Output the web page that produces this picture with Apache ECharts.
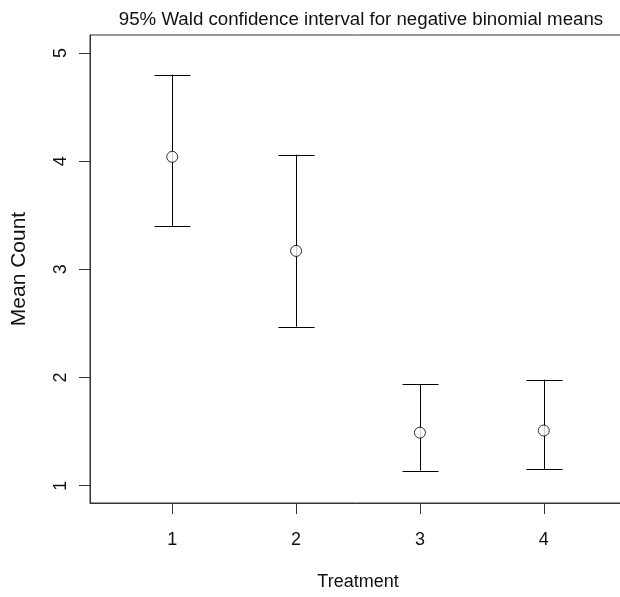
<!DOCTYPE html>
<html>
<head>
<meta charset="utf-8">
<script src="https://cdn.jsdelivr.net/npm/echarts@6/dist/echarts.min.js"></script>
<style>
html,body{margin:0;padding:0;background:#fff;}
#chart{width:620px;height:597px;}
</style>
</head>
<body>
<div id="chart"></div>
<script>
var treatments = [1, 2, 3, 4];
var means = [4.04, 3.17, 1.49, 1.51];
var upper = [4.80, 4.06, 1.94, 1.98];
var lower = [3.40, 2.47, 1.14, 1.15];
var xTicks = [1, 2, 3, 4];
var yTicks = [1, 2, 3, 4, 5];

var FONT = "'Liberation Sans', Arial, sans-serif";
var chart = echarts.init(document.getElementById('chart'), null, {renderer: 'canvas'});

var barData = treatments.map(function (t, i) { return [t, lower[i], upper[i]]; });
var meanData = treatments.map(function (t, i) { return [t, means[i]]; });

chart.setOption({
  animation: false,
  backgroundColor: '#fff',
  title: {
    text: '95% Wald confidence interval for negative binomial means',
    left: 356, top: 5, textAlign: 'center',
    textStyle: {fontFamily: FONT, fontSize: 18.7, fontWeight: 'normal', color: '#111'}
  },
  grid: {left: 90, top: 35, width: 536, height: 468, outerBoundsMode: 'none', containLabel: false,
         show: true, borderColor: '#333', borderWidth: 1, backgroundColor: 'transparent'},
  xAxis: {
    type: 'value', min: 0.336, max: 4.664,
    name: 'Treatment', nameLocation: 'middle', nameGap: 70,
    nameTextStyle: {fontFamily: FONT, fontSize: 18, color: '#111'},
    axisLine: {show: true, lineStyle: {color: '#333', width: 1}},
    axisTick: {show: true, inside: false, length: 11, customValues: xTicks, lineStyle: {color: '#333'}},
    axisLabel: {customValues: xTicks, margin: 28, fontFamily: FONT, fontSize: 18, color: '#111'},
    splitLine: {show: false}
  },
  yAxis: {
    type: 'value', min: 0.84, max: 5.166,
    name: 'Mean Count', nameLocation: 'middle', nameGap: 60, nameRotate: 90,
    nameTextStyle: {fontFamily: FONT, fontSize: 21, color: '#111'},
    axisLine: {show: true, lineStyle: {color: '#333', width: 1}},
    axisTick: {show: true, inside: false, length: 11, customValues: yTicks, lineStyle: {color: '#333'}},
    axisLabel: {customValues: yTicks, rotate: 90, margin: 20, fontFamily: FONT, fontSize: 18, color: '#111'},
    splitLine: {show: false}
  },
  series: [
    {
      type: 'custom',
      data: barData,
      renderItem: function (params, api) {
        var x = api.value(0);
        var lo = api.coord([x, api.value(1)]);
        var hi = api.coord([x, api.value(2)]);
        var cx = Math.round(lo[0]) + 0.5;
        var half = 18;
        var style = {stroke: '#000', lineWidth: 1, fill: null};
        return {
          type: 'group',
          children: [
            {type: 'line', shape: {x1: cx, y1: hi[1], x2: cx, y2: lo[1]}, style: style},
            {type: 'line', shape: {x1: cx - half, y1: Math.round(hi[1]) + 0.5, x2: cx + half, y2: Math.round(hi[1]) + 0.5}, style: style},
            {type: 'line', shape: {x1: cx - half, y1: Math.round(lo[1]) + 0.5, x2: cx + half, y2: Math.round(lo[1]) + 0.5}, style: style}
          ]
        };
      },
      z: 2
    },
    {
      type: 'scatter',
      data: meanData,
      symbol: 'circle',
      symbolSize: 11,
      itemStyle: {color: '#fff', borderColor: '#000', borderWidth: 1},
      z: 3
    }
  ]
});
</script>
</body>
</html>
